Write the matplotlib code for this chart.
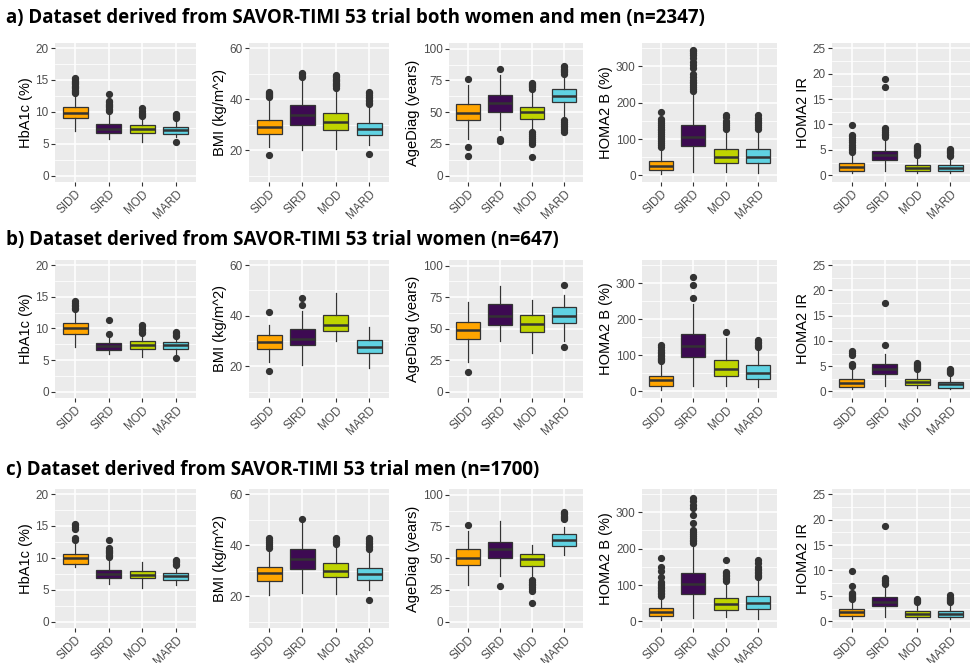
"""Box plots of the four diabetes clusters (SIDD, SIRD, MOD, MARD) for five
clinical variables, shown for the full SAVOR-TIMI 53 derived dataset and for
women and men separately.

Box statistics are given as (whisker low, Q1, median, Q3, whisker high) per
cluster, with the outlying points listed separately.
"""
import matplotlib
matplotlib.use("Agg")
import matplotlib.pyplot as plt
from matplotlib.ticker import MultipleLocator

CLUSTERS = ["SIDD", "SIRD", "MOD", "MARD"]
VARIABLES = ["HbA1c (%)", "BMI (kg/m^2)", "AgeDiag (years)", "HOMA2 B (%)", "HOMA2 IR"]
SUBSET_TITLES = [
    "a) Dataset derived from SAVOR-TIMI 53 trial both women and men (n=2347)",
    "b) Dataset derived from SAVOR-TIMI 53 trial women (n=647)",
    "c) Dataset derived from SAVOR-TIMI 53 trial men (n=1700)",
]

# ---- both women and men ----
ALL_HBA1C = [[7.0, 9.1, 9.8, 10.7, 12.8], [5.8, 6.7, 7.3, 8.05, 10.0],
             [5.3, 6.75, 7.3, 7.9, 9.1], [6.0, 6.6, 7.15, 7.7, 8.9]]
ALL_HBA1C_OUT = [[12.9, 13.1, 13.3, 13.5, 13.7, 13.9, 14.1, 14.3, 14.5, 14.7, 14.9, 15.1, 15.3],
                 [10.1, 10.3, 10.5, 10.7, 10.9, 11.1, 11.3, 11.5, 11.7, 12.8],
                 [9.3, 9.5, 9.7, 9.9, 10.2, 10.6],
                 [5.3, 9.0, 9.15, 9.3, 9.45, 9.6]]
ALL_BMI = [[21.3, 26.2, 29.1, 31.9, 40.3], [20.2, 29.7, 33.9, 37.5, 48.0],
           [20.3, 28.0, 31.2, 34.7, 44.0], [22.0, 26.0, 28.3, 30.8, 37.5]]
ALL_BMI_OUT = [[18.0, 40.8, 41.2, 41.6, 42.0, 42.4, 42.8],
               [48.6, 49.2, 49.8, 50.4],
               [44.5, 45.0, 45.5, 46.0, 46.5, 47.0, 47.5, 48.0, 48.5, 49.0, 49.4],
               [18.3, 38.0, 38.6, 39.2, 39.8, 40.4, 41.0, 41.6, 42.2, 42.8]]
ALL_AGE = [[29.0, 43.5, 49.5, 56.5, 71.5], [36.0, 50.0, 57.5, 63.5, 79.5],
           [35.5, 44.8, 50.2, 54.3, 68.0], [46.0, 58.0, 62.5, 68.2, 79.5]]
ALL_AGE_OUT = [[76.3, 22.4, 15.5],
               [83.7, 28.8, 27.5],
               [68.5, 69.5, 70.5, 71.5, 72.5, 73.2, 34.0, 32.5, 31.0, 29.5, 28.0, 26.5, 25.0, 14.5],
               [80.3, 81.3, 82.3, 83.3, 84.3, 85.3, 86.3, 43.5, 42.0, 40.5, 39.0, 37.5, 36.0, 34.5]]
ALL_HOMAB = [[3, 14, 26, 40, 78], [9, 80, 106, 140, 229],
             [9, 33, 50, 72, 126], [6, 35, 50, 72, 126]]
ALL_HOMAB_OUT = [[79, 84, 89, 94, 99, 104, 109, 114, 119, 124, 129, 134, 139, 144, 149, 154, 175],
                 [233, 238, 243, 248, 253, 258, 263, 270, 280, 294, 304, 312, 322, 330, 336, 341, 345],
                 [129, 134, 139, 144, 149, 160, 167],
                 [128, 133, 138, 143, 148, 153, 158, 167]]
ALL_HOMAIR = [[0.45, 0.9, 1.65, 2.5, 4.4], [0.85, 2.95, 3.95, 4.8, 7.4],
              [0.45, 0.8, 1.45, 2.1, 4.0], [0.45, 0.8, 1.5, 2.0, 3.8]]
ALL_HOMAIR_OUT = [[4.6, 4.9, 5.2, 5.5, 6.0, 6.6, 7.0, 7.3, 7.7, 8.0, 9.8],
                  [7.6, 7.9, 8.2, 8.6, 9.0, 9.3, 17.4, 18.9],
                  [4.1, 4.3, 4.5, 4.7, 4.9, 5.1, 5.3, 5.5, 5.7],
                  [3.9, 4.1, 4.3, 4.5, 4.7, 4.9, 5.1]]

# ---- women ----
F_HBA1C = [[7.1, 9.05, 10.0, 10.9, 12.6], [6.0, 6.6, 7.2, 7.7, 8.5],
           [5.5, 6.7, 7.35, 8.0, 9.1], [5.8, 6.7, 7.3, 7.8, 8.5]]
F_HBA1C_OUT = [[13.0, 13.25, 13.5, 13.75, 14.0, 14.25],
               [9.1, 11.3],
               [9.3, 9.5, 9.7, 9.9, 10.3, 10.6],
               [5.3, 8.8, 9.0, 9.2, 9.4]]
F_BMI = [[21.7, 26.8, 29.5, 32.3, 36.5], [20.4, 28.6, 30.8, 34.7, 42.0],
         [29.9, 34.0, 36.4, 40.3, 49.0], [19.5, 25.3, 27.8, 30.4, 35.4]]
F_BMI_OUT = [[41.6, 18.0], [44.2, 47.0], [], []]
F_AGE = [[23.5, 42.0, 49.0, 55.3, 71.5], [40.5, 53.3, 60.0, 69.2, 84.0],
         [30.5, 47.3, 54.0, 61.0, 72.5], [40.5, 54.3, 60.0, 67.0, 77.0]]
F_AGE_OUT = [[15.5], [], [], [85.0, 35.5]]
F_HOMAB = [[5.5, 15.6, 31, 43, 82], [15.6, 95.7, 125, 158, 241],
           [15.6, 42.3, 62, 88.3, 149], [12.9, 34, 51, 72.7, 118]]
F_HOMAB_OUT = [[85, 88, 91, 94, 98, 102, 106, 110, 115, 122, 130],
               [259, 294, 318],
               [165],
               [122, 126, 130, 134, 138, 143]]
F_HOMAIR = [[0.45, 0.92, 1.7, 2.55, 4.2], [1.1, 3.35, 4.35, 5.35, 7.5],
            [0.6, 1.25, 1.9, 2.55, 4.2], [0.45, 0.73, 1.45, 1.9, 3.5]]
F_HOMAIR_OUT = [[5.0, 5.2, 5.5, 7.3, 7.6, 7.9],
                [9.2, 17.5],
                [4.4, 4.6, 4.8, 5.0, 5.2, 5.4, 5.6],
                [3.7, 3.9, 4.1, 4.3, 4.5]]

# ---- men ----
M_HBA1C = [[8.5, 9.1, 10.0, 10.6, 12.1], [5.85, 6.85, 7.5, 8.15, 10.0],
           [5.3, 6.85, 7.35, 8.0, 9.4], [5.8, 6.6, 7.2, 7.7, 8.8]]
M_HBA1C_OUT = [[12.8, 13.1, 14.5, 14.8, 15.1, 15.3],
               [10.1, 10.3, 10.5, 10.7, 10.9, 11.1, 11.3, 11.6, 12.8],
               [],
               [8.9, 9.1, 9.3, 9.5, 9.6]]
M_BMI = [[20.4, 26.0, 29.0, 31.5, 38.0], [21.4, 30.8, 34.5, 38.3, 49.2],
         [20.8, 27.6, 30.0, 32.8, 40.0], [22.4, 26.3, 28.5, 31.1, 38.0]]
M_BMI_OUT = [[38.8, 39.6, 40.4, 41.2, 42.0, 42.7],
             [50.3],
             [40.6, 41.2, 41.8, 42.4, 42.8],
             [18.5, 38.6, 39.2, 39.8, 40.4, 41.0, 41.6, 42.2, 42.8]]
M_AGE = [[28.5, 44.6, 50.5, 57.2, 71.7], [36.0, 49.9, 57.0, 63.0, 79.0],
         [33.6, 44.1, 49.5, 53.3, 60.4], [52.5, 59.5, 64.0, 69.0, 74.5]]
M_AGE_OUT = [[76.4],
             [27.8],
             [33.0, 31.5, 30.0, 28.5, 27.0, 25.5, 24.0, 14.4],
             [80.5, 81.5, 82.5, 83.5, 84.5, 85.5, 86.3]]
M_HOMAB = [[3.7, 13.9, 26, 37, 68], [9, 75.7, 103, 133, 210],
           [11, 32, 48, 65, 108], [6.5, 34, 50, 71, 117]]
M_HOMAB_OUT = [[71, 75, 79, 83, 87, 91, 95, 99, 103, 108, 122, 140, 150, 175],
               [215, 220, 225, 230, 235, 240, 245, 250, 270, 292, 312, 320, 330, 340],
               [112, 116, 120, 124, 128, 132, 136, 168],
               [121, 125, 129, 133, 137, 141, 145, 150, 160, 168]]
M_HOMAIR = [[0.5, 1.05, 1.8, 2.5, 4.1], [0.85, 2.95, 3.8, 4.8, 7.1],
            [0.46, 0.85, 1.5, 2.0, 3.7], [0.46, 0.85, 1.5, 2.0, 3.7]]
M_HOMAIR_OUT = [[4.3, 4.5, 4.7, 4.9, 5.1, 5.3, 5.5, 7.0, 9.8],
                [7.3, 7.6, 7.9, 8.2, 8.6, 18.8],
                [3.8, 4.0, 4.2, 4.4],
                [3.8, 4.0, 4.2, 4.4, 4.6, 4.8, 5.1]]

ROWS = [
    [(ALL_HBA1C, ALL_HBA1C_OUT), (ALL_BMI, ALL_BMI_OUT), (ALL_AGE, ALL_AGE_OUT),
     (ALL_HOMAB, ALL_HOMAB_OUT), (ALL_HOMAIR, ALL_HOMAIR_OUT)],
    [(F_HBA1C, F_HBA1C_OUT), (F_BMI, F_BMI_OUT), (F_AGE, F_AGE_OUT),
     (F_HOMAB, F_HOMAB_OUT), (F_HOMAIR, F_HOMAIR_OUT)],
    [(M_HBA1C, M_HBA1C_OUT), (M_BMI, M_BMI_OUT), (M_AGE, M_AGE_OUT),
     (M_HOMAB, M_HOMAB_OUT), (M_HOMAIR, M_HOMAIR_OUT)],
]

# styling
FILLS = ["#FFA500", "#3D0A52", "#BFD400", "#60D2E2"]
INK = "#333333"
PANEL_BG = "#EBEBEB"
YLIMS = [(-1.0, 20.8), (7.5, 62.0), (-5.0, 104.5), (-18, 364), (-1.3, 26.0)]
YSTEP = [5, 20, 25, 100, 5]

W, H = 974, 663
COLS_PX = [(55, 196), (249, 389), (449, 583), (642, 777), (832, 970)]
ROWS_PX = [(43, 182), (260, 398), (489, 628)]
TITLE_Y = [18, 240, 470]


def box_stats(five, fliers):
    return [{"whislo": s[0], "q1": s[1], "med": s[2], "q3": s[3], "whishi": s[4],
             "fliers": f} for s, f in zip(five, fliers)]


def style_panel(ax, j):
    ax.set_facecolor(PANEL_BG)
    for sp in ax.spines.values():
        sp.set_visible(False)
    ax.set_xlim(0.4, 4.6)
    ax.set_ylim(*YLIMS[j])
    ax.yaxis.set_major_locator(MultipleLocator(YSTEP[j]))
    ax.yaxis.set_minor_locator(MultipleLocator(YSTEP[j] / 2))
    ax.grid(which="major", color="white", linewidth=1.1)
    ax.grid(which="minor", axis="y", color="white", linewidth=0.55)
    ax.set_axisbelow(True)
    ax.tick_params(which="major", length=3, width=0.8, color=INK,
                   labelsize=8.5, labelcolor="#4D4D4D", pad=1.5)
    ax.tick_params(which="minor", length=0)
    ax.set_xticks([1, 2, 3, 4])
    ax.set_xticklabels(CLUSTERS, rotation=45, ha="right", rotation_mode="anchor")
    ax.set_ylabel(VARIABLES[j], fontsize=10.5, labelpad=2, color="black")


plt.rcParams["font.family"] = ["Liberation Sans", "DejaVu Sans"]
fig = plt.figure(figsize=(W / 100, H / 100), dpi=100)
fig.patch.set_facecolor("white")

for i, row in enumerate(ROWS):
    y0, y1 = ROWS_PX[i]
    fig.text(6 / W, 1 - TITLE_Y[i] / H, SUBSET_TITLES[i], family="Open Sans",
             fontweight="bold", fontsize=13.5, va="center", ha="left")
    for j, (five, fliers) in enumerate(row):
        x0, x1 = COLS_PX[j]
        ax = fig.add_axes([x0 / W, 1 - y1 / H, (x1 - x0) / W, (y1 - y0) / H])
        parts = ax.bxp(box_stats(five, fliers), positions=[1, 2, 3, 4], widths=0.75,
                       patch_artist=True, showcaps=False, manage_ticks=False,
                       boxprops=dict(edgecolor=INK, linewidth=0.9),
                       whiskerprops=dict(color=INK, linewidth=0.9),
                       medianprops=dict(color=INK, linewidth=1.8),
                       flierprops=dict(marker="o", markerfacecolor=INK,
                                       markeredgecolor=INK, markersize=4.2))
        for patch, c in zip(parts["boxes"], FILLS):
            patch.set_facecolor(c)
        style_panel(ax, j)

fig.savefig("out.png", dpi=100, facecolor="white")
